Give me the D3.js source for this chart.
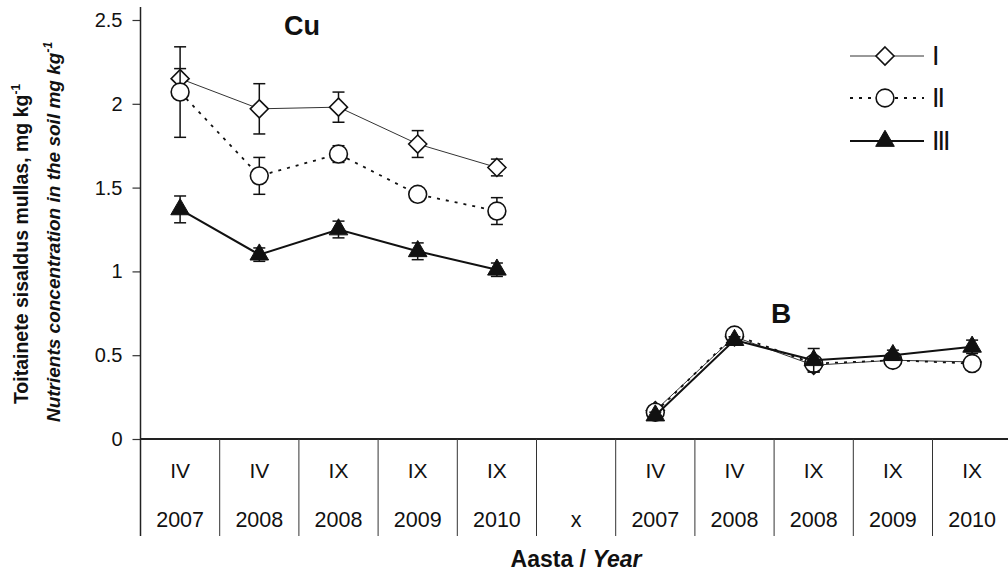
<!DOCTYPE html>
<html><head><meta charset="utf-8">
<script src="https://cdn.jsdelivr.net/npm/d3@7"></script>
<style>
body{margin:0;background:#fff;}
svg{display:block;}
</style></head>
<body>
<svg id="c" width="1008" height="572"></svg>
<script>
// ---- data ----
const periods = ["IV","IV","IX","IX","IX","","IV","IV","IX","IX","IX"];
const years   = ["2007","2008","2008","2009","2010","x","2007","2008","2008","2009","2010"];
const yTicks  = [0, 0.5, 1, 1.5, 2, 2.5];
const cuIdx = [0,1,2,3,4];
const bIdx  = [6,7,8,9,10];
const cuI      = [2.15, 1.97, 1.98, 1.76, 1.62];
const cuIErr   = [0.06, 0.15, 0.09, 0.08, 0.05];
const cuII     = [2.07, 1.57, 1.70, 1.46, 1.36];
const cuIIErr  = [0.27, 0.11, 0.05, 0.03, 0.08];
const cuIII    = [1.37, 1.10, 1.25, 1.12, 1.01];
const cuIIIErr = [0.08, 0.04, 0.05, 0.05, 0.04];
const bI      = [0.17, 0.61, 0.44, 0.47, 0.46];
const bIErr   = [0.02, 0.02, 0.04, 0.03, 0.03];
const bII     = [0.16, 0.62, 0.45, 0.47, 0.45];
const bIIErr  = [0.02, 0.02, 0.03, 0.02, 0.04];
const bIII    = [0.14, 0.59, 0.47, 0.50, 0.55];
const bIIIErr = [0.02, 0.02, 0.07, 0.03, 0.04];
const seriesNames = ["I","II","III"];

// ---- layout ----
const svg = d3.select("#c");
const plotLeft = 140.5, plotTop = 20, zeroY = 439;
const sans = "Arial, 'Liberation Sans', sans-serif";
const x = d3.scaleBand().domain(d3.range(periods.length)).range([plotLeft, plotLeft + 79.2*periods.length]).padding(0);
const y = d3.scaleLinear().domain([0, 2.5]).range([zeroY, plotTop]);

// square diamond symbol (equal width and height)
const symbolRhomb = {
  draw(ctx, size){
    const r = Math.sqrt(size/2);
    ctx.moveTo(0,-r); ctx.lineTo(r,0); ctx.lineTo(0,r); ctx.lineTo(-r,0); ctx.closePath();
  }
};

const styles = {
  I:   {stroke:"#333", width:1, dash:null, symbol:symbolRhomb, size:162, fill:"#fff", sw:1.6},
  II:  {stroke:"#111", width:1.8, dash:"3,6", symbol:d3.symbolCircle, size:250, fill:"#fff", sw:1.6},
  III: {stroke:"#111", width:2, dash:null, symbol:d3.symbolTriangle, size:150, fill:"#111", sw:1}
};

// ---- axes ----
const yAxis = d3.axisLeft(y).tickValues(yTicks).tickSize(8).tickFormat(d3.format("~g"));
const gy = svg.append("g").attr("transform", `translate(${plotLeft},0)`).call(yAxis);
gy.select(".domain").remove();
gy.selectAll(".tick line").attr("stroke","#333").attr("stroke-width",1.2);
gy.selectAll(".tick text").attr("font-family",sans).attr("font-size",20).attr("fill","#111").attr("x",-18);
svg.append("line").attr("x1",plotLeft).attr("x2",plotLeft).attr("y1",7).attr("y2",536).attr("stroke","#222").attr("stroke-width",1.5);
svg.append("line").attr("x1",plotLeft).attr("x2",1008).attr("y1",zeroY).attr("y2",zeroY).attr("stroke","#222").attr("stroke-width",2);

// table separators
const edges = d3.range(periods.length + 1).map(i => plotLeft + i*x.bandwidth());
svg.selectAll("line.sep").data(edges.slice(1)).enter().append("line").attr("class","sep")
  .attr("x1",d=>d).attr("x2",d=>d).attr("y1",zeroY).attr("y2",536).attr("stroke","#333").attr("stroke-width",1);
svg.selectAll("text.per").data(periods).enter().append("text").attr("class","per")
  .attr("x",(d,i)=>x(i)+x.bandwidth()/2).attr("y",478).attr("text-anchor","middle")
  .attr("font-family",sans).attr("font-size",21).attr("fill","#111").text(d=>d);
svg.selectAll("text.yr").data(years).enter().append("text").attr("class","yr")
  .attr("x",(d,i)=>x(i)+x.bandwidth()/2).attr("y",527).attr("text-anchor","middle")
  .attr("font-family",sans).attr("font-size",21.5).attr("fill","#111").text(d=>d);

// x title
const xt = svg.append("text").attr("x",576).attr("y",567).attr("text-anchor","middle")
  .attr("font-family",sans).attr("font-size",23).attr("font-weight","bold").attr("fill","#111");
xt.append("tspan").text("Aasta / ");
xt.append("tspan").attr("font-style","italic").text("Year");

// y title
const l1 = svg.append("text").attr("transform","translate(28,244) rotate(-90)").attr("text-anchor","middle")
  .attr("font-family",sans).attr("font-size",19.5).attr("font-weight","bold").attr("fill","#111");
l1.append("tspan").text("Toitainete sisaldus mullas, mg kg");
l1.append("tspan").attr("dy",-8).attr("font-size",12).text("-1");
const l2 = svg.append("text").attr("transform","translate(60,232) rotate(-90)").attr("text-anchor","middle")
  .attr("font-family",sans).attr("font-size",19).attr("font-weight","bold").attr("font-style","italic").attr("fill","#111");
l2.append("tspan").text("Nutrients concentration in the soil mg kg");
l2.append("tspan").attr("dy",-8).attr("font-size",12).text("-1");

// ---- series ----
function drawSeries(idx, vals, errs, name){
  const st = styles[name];
  const pts = idx.map((c,i)=>({x:x(c)+x.bandwidth()/2, v:vals[i], e:errs[i]}));
  const g = svg.append("g");
  g.append("path").datum(pts).attr("fill","none").attr("stroke",st.stroke).attr("stroke-width",st.width)
    .attr("stroke-dasharray",st.dash).attr("d",d3.line().x(d=>d.x).y(d=>y(d.v)));
  const eb = g.selectAll("g.eb").data(pts).enter().append("g").attr("stroke","#111").attr("stroke-width",1.5);
  eb.append("line").attr("x1",d=>d.x).attr("x2",d=>d.x).attr("y1",d=>y(d.v+d.e)).attr("y2",d=>y(d.v-d.e));
  eb.append("line").attr("x1",d=>d.x-6).attr("x2",d=>d.x+6).attr("y1",d=>y(d.v+d.e)).attr("y2",d=>y(d.v+d.e));
  eb.append("line").attr("x1",d=>d.x-6).attr("x2",d=>d.x+6).attr("y1",d=>y(d.v-d.e)).attr("y2",d=>y(d.v-d.e));
  g.selectAll("path.m").data(pts).enter().append("path").attr("class","m")
    .attr("transform",d=>`translate(${d.x},${y(d.v)})`)
    .attr("d",d3.symbol().type(st.symbol).size(st.size)())
    .attr("fill",st.fill).attr("stroke","#111").attr("stroke-width",st.sw);
}
drawSeries(cuIdx, cuI, cuIErr, "I");
drawSeries(cuIdx, cuII, cuIIErr, "II");
drawSeries(cuIdx, cuIII, cuIIIErr, "III");
drawSeries(bIdx, bI, bIErr, "I");
drawSeries(bIdx, bII, bIIErr, "II");
drawSeries(bIdx, bIII, bIIIErr, "III");

// element labels
svg.append("text").attr("x",284).attr("y",35).attr("font-family",sans)
  .attr("font-size",27).attr("font-weight","bold").attr("fill","#111").text("Cu");
svg.append("text").attr("x",771).attr("y",323).attr("font-family",sans)
  .attr("font-size",28).attr("font-weight","bold").attr("fill","#111").text("B");

// legend
const legY = [56, 98, 141];
const lg = svg.selectAll("g.leg").data(seriesNames).enter().append("g").attr("class","leg")
  .attr("transform",(d,i)=>`translate(0,${legY[i]})`);
lg.append("line").attr("x1",850).attr("x2",924).attr("y1",0).attr("y2",0)
  .attr("stroke",d=>styles[d].stroke).attr("stroke-width",d=>styles[d].width).attr("stroke-dasharray",d=>styles[d].dash);
lg.append("path").attr("transform","translate(885,0)")
  .attr("d",d=>d3.symbol().type(styles[d].symbol).size(styles[d].size)())
  .attr("fill",d=>styles[d].fill).attr("stroke","#111").attr("stroke-width",d=>styles[d].sw);
lg.append("text").attr("x",932).attr("y",9).attr("font-family",sans).attr("font-size",27)
  .attr("letter-spacing",-2).attr("fill","#111").text(d=>d);
</script>
</body></html>
